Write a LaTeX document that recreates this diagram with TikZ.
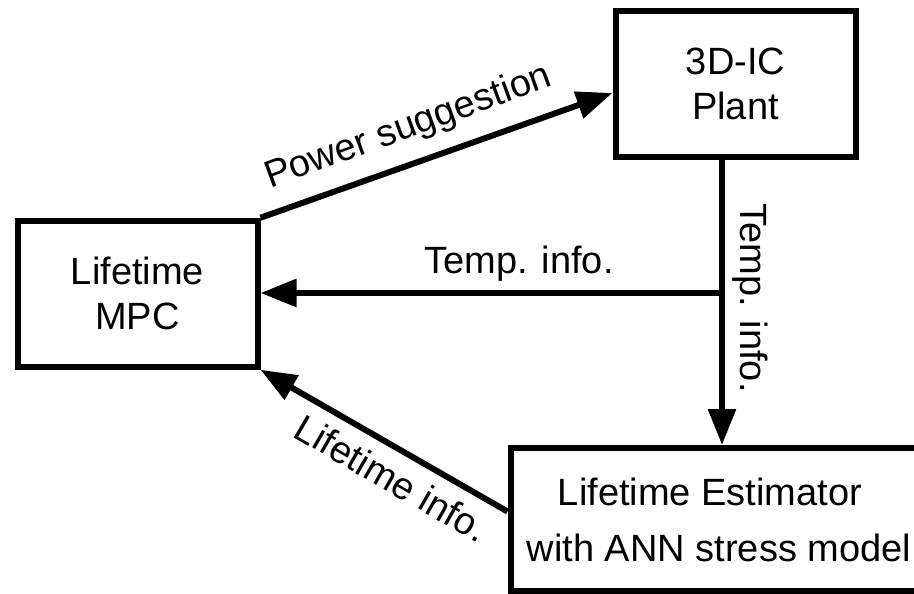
\documentclass[tikz,border=0pt]{standalone}
\usepackage{fontspec}
\setmainfont{Liberation Sans}
\usetikzlibrary{arrows.meta,calc}
\begin{document}
\begin{tikzpicture}[x=1pt,y=-1pt,
  txt/.style={font=\fontsize{38}{45}\selectfont},
  box/.style={txt,draw,line width=6pt,minimum width=240pt,minimum height=146pt,
    inner sep=0pt,align=center},
  arr/.style={line width=6pt,-{Triangle[length=36pt,width=27pt]}},
  lbl/.style={txt,inner sep=0pt,anchor=base}]
\useasboundingbox (0,0) rectangle (914,594);
\clip (0,0) rectangle (914,594);

% blocks
\node[box] (mpc) at (137.5,293.75) {Lifetime\\MPC};
\node[box] (plant) at (735.5,84) {3D-IC\\Plant};
\node[box,minimum width=420pt,minimum height=143pt,
  font=\fontsize{38}{56}\selectfont] (est) at (720.5,519.5)
  {Lifetime Estimator\hspace*{21pt}\\with ANN stress model\hspace*{3pt}};

% branch point of the temperature signal
\coordinate (j) at (722,293);

% signals
\draw[arr] (mpc.north east) -- ([yshift=-9pt]plant.west);
\draw[line width=6pt] (plant.south -| j) -- (j);
\draw[arr] (j) -- (est.north -| j);
\draw[arr] (j) -- (mpc.east |- j);
\draw[arr] ([yshift=8pt]est.west) -- (mpc.south east);

% signal labels
\node[lbl,rotate=20] (lpow) at (412,137) {Power suggestion};
\node[lbl] (ltemph) at (519,273) {Temp. info.};
\node[lbl,rotate=-90] (ltempv) at (740,298) {Temp. info.};
\node[lbl,rotate=-30] (llife) at (385,490) {Lifetime info.};
\end{tikzpicture}
\end{document}
